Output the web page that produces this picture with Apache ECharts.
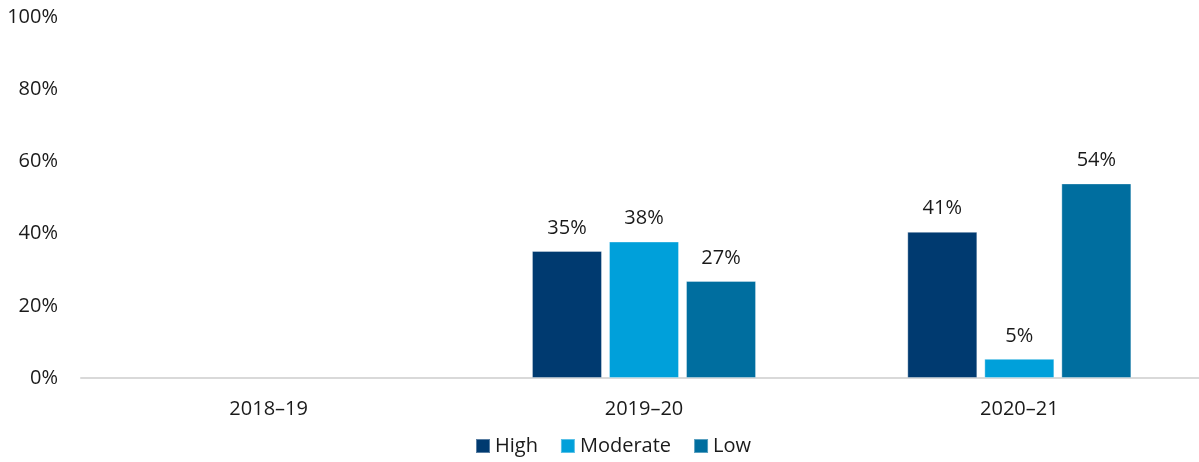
<!DOCTYPE html>
<html>
<head>
<meta charset="utf-8">
<script src="https://cdn.jsdelivr.net/npm/echarts@6/dist/echarts.min.js"></script>
<style>html,body{margin:0;padding:0;background:#fff;overflow:hidden;}#wrap{width:1199px;height:462px;overflow:hidden;}#c{width:1207px;height:462px;}</style>
</head>
<body>
<div id="wrap"><div id="c"></div></div>
<script>
const categories = ['2018–19', '2019–20', '2020–21'];
const high = [null, 35.2, 40.5];
const moderate = [null, 37.8, 5.3];
const low = [null, 26.9, 53.9];
const yTicks = [0, 20, 40, 60, 80, 100];

const FONT = 'Open Sans';
const chart = echarts.init(document.getElementById('c'), null, {renderer: 'canvas'});
const lbl = {
  show: true, position: 'top', distance: 13,
  fontFamily: FONT, fontSize: 20, color: '#1a1a1a',
  formatter: p => Math.round(p.value) + '%'
};
function s(name, data, color) {
  return {
    name, type: 'bar', data, barGap: '10%', barCategoryGap: '40.3%',
    itemStyle: {color, borderColor: 'rgba(255,255,255,0.35)', borderWidth: 1},
    label: lbl
  };
}
chart.setOption({
  animation: false,
  textStyle: {fontFamily: FONT},
  grid: {left: 81, right: 0, top: 17, bottom: 84},
  legend: {
    bottom: 1, left: 470, itemWidth: 14, itemHeight: 14, itemGap: 22,
    icon: 'rect',
    textStyle: {fontFamily: FONT, fontSize: 20, color: '#1a1a1a', padding: [0, 0, 0, 0]},
    data: ['High', 'Moderate', 'Low']
  },
  xAxis: {
    type: 'category', data: categories,
    axisLine: {lineStyle: {color: '#d9d9d9', width: 2}},
    axisTick: {show: false},
    axisLabel: {fontFamily: FONT, fontSize: 20, color: '#1a1a1a', margin: 21}
  },
  yAxis: {
    type: 'value', min: yTicks[0], max: yTicks[yTicks.length - 1], interval: 20,
    splitLine: {show: false},
    axisLine: {show: false}, axisTick: {show: false},
    axisLabel: {fontFamily: FONT, fontSize: 20, color: '#1a1a1a', margin: 23, formatter: '{value}%'}
  },
  series: [
    s('High', high, '#003A70'),
    s('Moderate', moderate, '#00A0DA'),
    s('Low', low, '#006E9F')
  ]
});
</script>
</body>
</html>
